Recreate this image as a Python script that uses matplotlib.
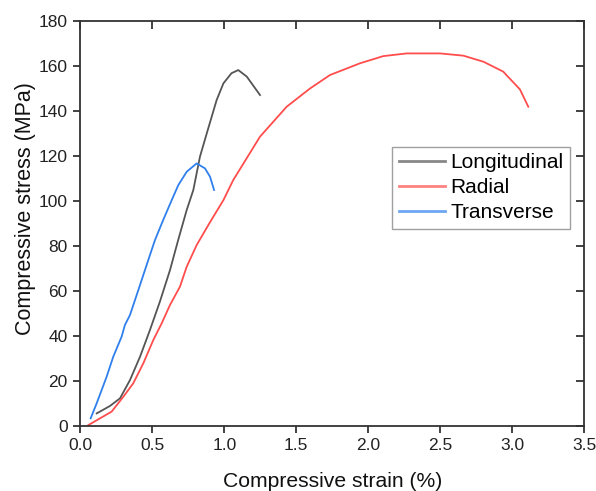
import matplotlib
matplotlib.use("Agg")
import matplotlib.pyplot as plt
import numpy as np

plt.rcParams['font.family'] = ['Liberation Sans', 'DejaVu Sans']

long_x = [0.114, 0.206, 0.276, 0.345, 0.415, 0.484, 0.553, 0.623, 0.68, 0.739, 0.785, 0.831, 0.878, 0.947, 0.994, 1.05, 1.097, 1.156, 1.248]
long_y = [5.6, 8.9, 12.3, 20.4, 30.8, 42.7, 55.3, 69.3, 82.7, 96.0, 104.9, 119.7, 130.0, 144.9, 152.3, 156.8, 158.2, 155.3, 147.1]

rad_x = [0.056, 0.218, 0.299, 0.368, 0.438, 0.507, 0.565, 0.623, 0.692, 0.739, 0.808, 0.901, 0.994, 1.062, 1.248, 1.433, 1.595, 1.734, 1.942, 2.104, 2.267, 2.498, 2.66, 2.8, 2.937, 3.053, 3.111]
rad_y = [0.4, 6.4, 13.0, 19.0, 27.9, 38.2, 45.6, 53.8, 61.9, 70.8, 80.4, 90.6, 100.4, 109.3, 128.6, 141.9, 150.0, 156.0, 161.2, 164.4, 165.6, 165.6, 164.6, 161.9, 157.5, 149.6, 141.9]

tr_x = [0.072, 0.114, 0.183, 0.229, 0.287, 0.31, 0.345, 0.403, 0.461, 0.519, 0.576, 0.635, 0.681, 0.739, 0.808, 0.866, 0.901, 0.929]
tr_y = [3.4, 10.1, 21.9, 30.8, 39.7, 44.9, 49.3, 60.4, 71.6, 82.7, 91.6, 100.4, 107.1, 113.0, 116.7, 114.5, 110.8, 104.9]

xticks = [0.0, 0.5, 1.0, 1.5, 2.0, 2.5, 3.0, 3.5]
yticks = [0, 20, 40, 60, 80, 100, 120, 140, 160, 180]

fig = plt.figure(figsize=(5.96, 4.91), dpi=100)
ax = fig.add_axes([0.1347, 0.1324, 0.9804 - 0.1347, 0.9572 - 0.1324])

ax.plot(long_x, long_y, color='#555555', lw=1.3, label='Longitudinal')
ax.plot(rad_x, rad_y, color='#ff4d4d', lw=1.3, label='Radial')
ax.plot(tr_x, tr_y, color='#2f80ed', lw=1.3, label='Transverse')

ax.set_xlim(0, 3.5)
ax.set_ylim(0, 180)
ax.set_xticks(xticks)
ax.set_yticks(yticks)
ax.set_xticklabels([f"{v:.1f}" for v in xticks])

ax.tick_params(axis='both', which='major', direction='out', length=5, width=1.3,
               labelsize=12.5, color='#333333', labelcolor='#222222', pad=4)
ax.tick_params(top=True, right=True)
for t in ax.xaxis.get_major_ticks():
    t.tick2line.set_marker(3)  # TICKDOWN (inward on top)
    t.tick2line.set_markersize(6)
for t in ax.yaxis.get_major_ticks():
    t.tick2line.set_marker(0)  # TICKLEFT (inward on right)
    t.tick2line.set_markersize(6)

for s in ax.spines.values():
    s.set_linewidth(1.3)
    s.set_color('#333333')

ax.set_xlabel('Compressive strain (%)', fontsize=15.2, color='#111111')
ax.set_ylabel('Compressive stress (MPa)', fontsize=15.5, color='#111111')
ax.xaxis.set_label_coords(0.5, -0.113)
ax.yaxis.set_label_coords(-0.087, 0.536)

leg = ax.legend(loc='upper left', bbox_to_anchor=(0.619, 0.69), fontsize=15,
                frameon=True, fancybox=False, edgecolor='#888888', handlelength=2.25,
                borderpad=0.3, labelspacing=0.3, handletextpad=0.25, borderaxespad=0)
leg.get_frame().set_linewidth(1.0)
leg._legend_box.align = 'left'
for l in leg.get_lines():
    l.set_alpha(0.7)
    l.set_linewidth(2)

fig.savefig('out.png', dpi=100)
